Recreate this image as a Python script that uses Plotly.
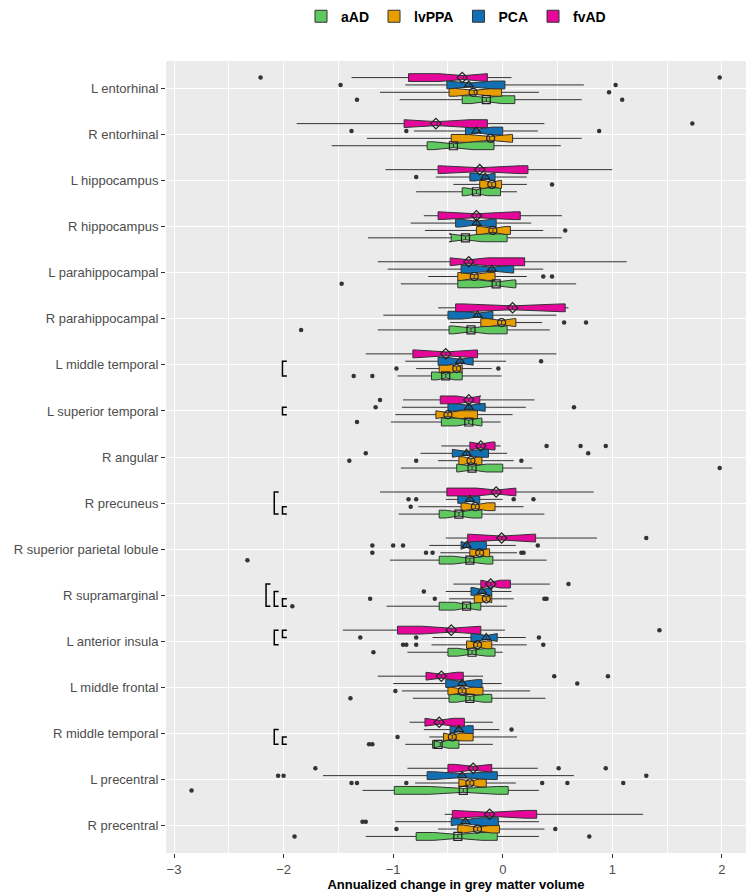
import plotly.graph_objects as go

regions = ["L entorhinal", "R entorhinal", "L hippocampus", "R hippocampus",
           "L parahippocampal", "R parahippocampal", "L middle temporal",
           "L superior temporal", "R angular", "R precuneus",
           "R superior parietal lobule", "R supramarginal", "L anterior insula",
           "L middle frontal", "R middle temporal", "L precentral", "R precentral"]
groups = ["aAD", "lvPPA", "PCA", "fvAD"]

# ---- aAD ----
aAD_lo = [-0.94, -1.56, -0.79, -1.23, -0.93, -1.14, -0.96, -1.02, -0.93, -0.95, -1.03, -1.06, -0.87, -0.82, -0.89, -1.28, -1.25]
aAD_q1 = [-0.37, -0.69, -0.37, -0.47, -0.41, -0.49, -0.65, -0.56, -0.42, -0.58, -0.58, -0.58, -0.50, -0.49, -0.64, -0.99, -0.79]
aAD_med = [-0.15, -0.45, -0.24, -0.34, -0.06, -0.29, -0.52, -0.31, -0.28, -0.40, -0.30, -0.33, -0.28, -0.30, -0.57, -0.36, -0.41]
aAD_q3 = [0.11, -0.08, -0.02, 0.04, 0.12, 0.04, -0.37, -0.19, 0.00, -0.19, -0.09, -0.20, -0.07, -0.10, -0.40, 0.05, -0.05]
aAD_hi = [0.72, 0.53, 0.13, 0.54, 0.67, 0.43, -0.01, -0.02, 0.27, 0.38, 0.40, 0.04, 0.00, 0.39, -0.09, 0.33, 0.33]
aAD_mean = [-0.15, -0.45, -0.24, -0.34, -0.06, -0.29, -0.52, -0.31, -0.28, -0.40, -0.30, -0.33, -0.28, -0.30, -0.59, -0.36, -0.41]
aAD_notch = [0.14, 0.18, 0.10, 0.15, 0.16, 0.16, 0.08, 0.11, 0.13, 0.12, 0.15, 0.11, 0.13, 0.12, 0.07, 0.31, 0.22]
aAD_out = [[-1.33, 1.09], [], [], [], [-1.47], [-1.84], [-1.36, -1.19], [-1.33], [1.98], [], [-2.33],
           [-1.92], [-1.18], [-1.39], [-1.22, -1.19], [-2.84], [-1.90, 0.79]]

# ---- lvPPA ----
lvPPA_lo = [-1.12, -1.24, -0.45, -0.71, -0.68, -0.48, -0.79, -0.98, -0.59, -0.77, -0.57, -0.49, -0.65, -0.92, -0.67, -0.80, -0.59]
lvPPA_q1 = [-0.49, -0.47, -0.21, -0.24, -0.41, -0.20, -0.58, -0.61, -0.40, -0.38, -0.30, -0.26, -0.33, -0.50, -0.54, -0.40, -0.41]
lvPPA_med = [-0.26, -0.12, -0.10, -0.09, -0.26, -0.01, -0.42, -0.50, -0.29, -0.25, -0.21, -0.15, -0.23, -0.37, -0.46, -0.30, -0.23]
lvPPA_q3 = [-0.01, 0.09, -0.01, 0.07, -0.07, 0.12, -0.37, -0.23, -0.19, -0.07, -0.12, -0.10, -0.10, -0.18, -0.27, -0.15, -0.03]
lvPPA_hi = [0.33, 0.72, 0.22, 0.37, 0.22, 0.36, -0.10, 0.09, 0.10, 0.19, 0.13, 0.10, 0.22, 0.25, 0.13, 0.12, 0.38]
lvPPA_mean = [-0.27, -0.11, -0.10, -0.09, -0.26, -0.01, -0.42, -0.50, -0.29, -0.25, -0.21, -0.15, -0.23, -0.37, -0.46, -0.30, -0.23]
lvPPA_notch = [0.17, 0.20, 0.07, 0.11, 0.12, 0.11, 0.05, 0.11, 0.07, 0.11, 0.06, 0.05, 0.08, 0.11, 0.08, 0.09, 0.13]
lvPPA_out = [[0.97], [], [0.45], [0.57], [0.37, 0.45], [0.56, 0.76], [-0.97, -0.04], [], [-1.40, -0.79, 0.17],
             [-0.84], [-1.19, -0.70, -0.64, 0.17, 0.19], [-1.21, -0.62, 0.38, 0.40],
             [-0.91, -0.88, -0.79, 0.37], [-0.98], [-0.96], [-1.38, -1.33, -0.88, 0.36, 0.59, 1.10], [-0.97, 0.48]]

# ---- PCA ----
PCA_lo = [-0.89, -0.81, -0.61, -0.84, -1.05, -1.09, -0.89, -0.92, -0.75, -0.52, -0.67, -0.52, -0.64, -1.00, -0.72, -1.64, -0.98]
PCA_q1 = [-0.51, -0.34, -0.30, -0.43, -0.38, -0.50, -0.59, -0.50, -0.46, -0.41, -0.38, -0.29, -0.29, -0.52, -0.48, -0.69, -0.47]
PCA_med = [-0.30, -0.22, -0.16, -0.24, -0.10, -0.23, -0.39, -0.31, -0.33, -0.30, -0.33, -0.19, -0.15, -0.37, -0.40, -0.37, -0.34]
PCA_q3 = [0.02, 0.00, -0.07, -0.06, 0.10, -0.09, -0.27, -0.16, -0.13, -0.21, -0.15, -0.10, -0.05, -0.19, -0.27, -0.05, -0.04]
PCA_hi = [0.74, 0.32, 0.22, 0.26, 0.37, 0.49, 0.03, 0.21, 0.04, 0.00, 0.12, 0.08, 0.21, -0.01, -0.03, 0.65, 0.33]
PCA_mean = [-0.31, -0.24, -0.16, -0.24, -0.10, -0.23, -0.39, -0.31, -0.33, -0.30, -0.33, -0.19, -0.15, -0.37, -0.40, -0.37, -0.34]
PCA_notch = [0.21, 0.12, 0.09, 0.15, 0.19, 0.14, 0.12, 0.14, 0.13, 0.08, 0.05, 0.08, 0.10, 0.13, 0.08, 0.26, 0.13]
PCA_out = [[-1.48, 1.03], [-1.38, -0.88, 0.88], [-0.79], [], [], [], [0.35], [-1.16, 0.65], [-1.25, 0.78],
           [-0.86, -0.79, 0.10, 0.28], [-1.19, -1.00, -0.91, 0.32], [-0.72], [-1.30, -0.79, 0.33],
           [0.68], [0.08], [-2.05, -2.00, 1.31], [-1.28, -1.25]]

# ---- fvAD ----
fvAD_lo = [-1.38, -1.88, -1.07, -0.72, -1.14, -0.59, -1.25, -0.91, -0.56, -1.12, -0.52, -0.45, -1.46, -1.14, -0.85, -0.87, -0.53]
fvAD_q1 = [-0.86, -0.90, -0.59, -0.59, -0.48, -0.43, -0.82, -0.57, -0.30, -0.51, -0.32, -0.20, -0.96, -0.70, -0.71, -0.50, -0.46]
fvAD_med = [-0.36, -0.60, -0.21, -0.24, -0.31, 0.09, -0.52, -0.31, -0.20, -0.06, -0.01, -0.11, -0.47, -0.56, -0.58, -0.27, -0.12]
fvAD_q3 = [-0.14, -0.14, 0.23, 0.16, 0.20, 0.57, -0.23, -0.21, -0.07, 0.12, 0.30, 0.07, -0.20, -0.36, -0.35, -0.10, 0.31]
fvAD_hi = [0.08, 0.38, 1.00, 0.54, 1.13, 0.60, 0.49, 0.29, -0.02, 0.83, 0.86, 0.43, 0.02, -0.18, -0.09, 0.32, 1.28]
fvAD_mean = [-0.37, -0.61, -0.21, -0.24, -0.31, 0.09, -0.52, -0.31, -0.20, -0.06, -0.01, -0.11, -0.47, -0.56, -0.58, -0.27, -0.12]
fvAD_notch = [0.22, 0.30, 0.37, 0.35, 0.17, 0.45, 0.28, 0.11, 0.10, 0.18, 0.30, 0.09, 0.27, 0.14, 0.13, 0.17, 0.33]
fvAD_out = [[-2.21, 1.98], [1.73], [], [], [], [], [], [-1.12], [0.40, 0.71, 0.94], [], [1.31], [0.60],
            [1.43], [0.47, 0.96], [], [-1.71, 0.51, 0.94], []]

# significance brackets: (region, group A, group B, nesting level)
brackets = [
    ("L middle temporal", "PCA", "aAD", 0),
    ("L superior temporal", "PCA", "lvPPA", 0),
    ("R precuneus", "lvPPA", "aAD", 0),
    ("R precuneus", "fvAD", "aAD", 1),
    ("R supramarginal", "lvPPA", "aAD", 0),
    ("R supramarginal", "PCA", "aAD", 1),
    ("R supramarginal", "fvAD", "aAD", 2),
    ("L anterior insula", "fvAD", "PCA", 0),
    ("L anterior insula", "fvAD", "lvPPA", 1),
    ("R middle temporal", "lvPPA", "aAD", 0),
    ("R middle temporal", "PCA", "aAD", 1),
]

stats = {
    "aAD": (aAD_lo, aAD_q1, aAD_med, aAD_q3, aAD_hi, aAD_mean, aAD_notch, aAD_out),
    "lvPPA": (lvPPA_lo, lvPPA_q1, lvPPA_med, lvPPA_q3, lvPPA_hi, lvPPA_mean, lvPPA_notch, lvPPA_out),
    "PCA": (PCA_lo, PCA_q1, PCA_med, PCA_q3, PCA_hi, PCA_mean, PCA_notch, PCA_out),
    "fvAD": (fvAD_lo, fvAD_q1, fvAD_med, fvAD_q3, fvAD_hi, fvAD_mean, fvAD_notch, fvAD_out),
}

colors = {"aAD": "#5FC95F", "lvPPA": "#E89E00", "PCA": "#1170B4", "fvAD": "#E5069A"}
symbols = {"aAD": "square-open", "lvPPA": "circle-open", "PCA": "triangle-up-open", "fvAD": "diamond-open"}
dodge = {"fvAD": -0.24, "PCA": -0.08, "lvPPA": 0.08, "aAD": 0.24}
box_w = 0.17

fig = go.Figure()
for g in groups:
    lo, q1, med, q3, hi, mean, notch, outs = stats[g]
    pos = [i + dodge[g] for i in range(len(regions))]
    fig.add_trace(go.Box(
        name=g, orientation="h", y=pos, q1=q1, median=med, q3=q3,
        lowerfence=lo, upperfence=hi, notchspan=notch, notched=True, notchwidth=0.25,
        width=box_w, fillcolor=colors[g], line=dict(color="#333333", width=1),
        whiskerwidth=0, boxpoints=False, hoverinfo="skip",
    ))
for g in groups:
    lo, q1, med, q3, hi, mean, notch, outs = stats[g]
    pos = [i + dodge[g] for i in range(len(regions))]
    fig.add_trace(go.Scatter(
        x=mean, y=pos, mode="markers", showlegend=False, hoverinfo="skip",
        marker=dict(symbol=symbols[g], size=8, color="#222222", line=dict(width=1.2, color="#222222")),
    ))
    ox, oy = [], []
    for i, vals in enumerate(outs):
        for v in vals:
            ox.append(v)
            oy.append(i + dodge[g])
    fig.add_trace(go.Scatter(
        x=ox, y=oy, mode="markers", showlegend=False, hoverinfo="skip",
        marker=dict(symbol="circle", size=4.5, color="#333333"),
    ))

# brackets
for reg, ga, gb, lvl in brackets:
    i = regions.index(reg)
    ya, yb = i + dodge[ga], i + dodge[gb]
    x0 = -2.01 - 0.075 * lvl
    tick = 0.04
    fig.add_shape(type="path",
                  path=f"M {x0 + tick} {ya} L {x0} {ya} L {x0} {yb} L {x0 + tick} {yb}",
                  line=dict(color="black", width=1.5), layer="above")

fig.update_layout(
    width=750, height=894,
    margin=dict(l=166, r=4, t=61, b=41, autoexpand=False),
    paper_bgcolor="white", plot_bgcolor="#EBEBEB",
    font=dict(family="Liberation Sans, Arial, sans-serif", size=13, color="#4D4D4D"),
    showlegend=True,
    legend=dict(orientation="h", x=0.5, xanchor="center", y=1.056, yanchor="middle",
                font=dict(size=14, color="black", family="Liberation Sans, Arial, sans-serif", weight="bold"),
                itemwidth=30, tracegroupgap=0, bgcolor="rgba(0,0,0,0)"),
    xaxis=dict(range=[-3.073, 2.22], tickvals=[-3, -2, -1, 0, 1, 2], showgrid=True,
               gridcolor="white", gridwidth=1.3, zeroline=False, automargin=False,
               minor=dict(dtick=0.5, tick0=0, showgrid=True, gridcolor="white", gridwidth=0.6),
               ticks="outside", ticklen=4, tickcolor="#333333",
               tickfont=dict(size=13, color="#4D4D4D"),
               title=dict(text="Annualized change in grey matter volume",
                          font=dict(size=13, color="black", weight="bold"), standoff=2)),
    yaxis=dict(range=[16.6, -0.6], tickvals=list(range(len(regions))), ticktext=regions,
               showgrid=True, gridcolor="white", gridwidth=1.3, zeroline=False, automargin=False,
               ticks="outside", ticklen=4, tickcolor="#333333",
               tickfont=dict(size=13, color="#4D4D4D")),
)

fig.write_html("out.html", config={"displayModeBar": False},
               post_script="document.body.style.margin='0';document.body.style.overflow='hidden';")
